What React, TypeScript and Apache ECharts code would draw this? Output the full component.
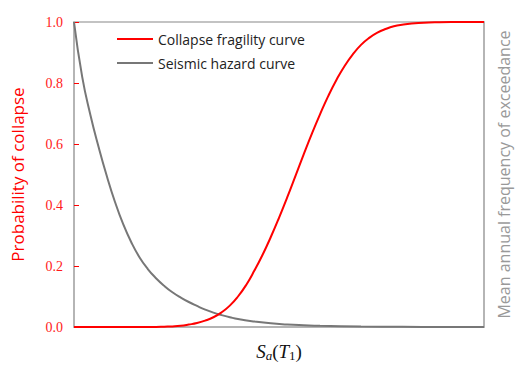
import React, { useEffect, useRef } from "react";
import * as echarts from "echarts";

const xGray = [0, 2, 4, 6, 8, 10, 12, 14, 16, 18, 20, 22, 24, 26, 28, 30, 32, 34, 36, 38, 40, 44, 48, 52, 56, 60, 70, 80, 90, 100];
const hazard = [1.0, 0.82, 0.695, 0.59, 0.495, 0.41, 0.337, 0.277, 0.228, 0.19, 0.16, 0.135, 0.114, 0.097, 0.082, 0.069, 0.057, 0.047, 0.039, 0.032, 0.026, 0.018, 0.012, 0.0085, 0.006, 0.004, 0.0015, 0.0006, 0.0002, 0.0];

const xRed = [0, 10, 20, 22, 24, 26, 28, 30, 32, 34, 36, 38, 40, 42, 44, 46, 48, 50, 52, 54, 56, 58, 60, 62, 64, 66, 68, 70, 72, 74, 76, 78, 80, 84, 88, 92, 100];
const fragility = [0, 0, 0, 0.001, 0.002, 0.004, 0.008, 0.013, 0.021, 0.032, 0.048, 0.07, 0.1, 0.138, 0.185, 0.237, 0.295, 0.358, 0.425, 0.495, 0.565, 0.633, 0.697, 0.757, 0.81, 0.856, 0.894, 0.925, 0.948, 0.965, 0.977, 0.986, 0.991, 0.997, 0.999, 1.0, 1.0];

const seriesNames = ["Collapse fragility curve", "Seismic hazard curve"];
const yTitleLeft = "Probability of collapse";
const yTitleRight = "Mean annual frequency of exceedance";

const SANS = "'Open Sans', 'Noto Sans', sans-serif";
const SERIF = "'Liberation Serif', 'DejaVu Serif', serif";

export default function App() {
  const ref = useRef<HTMLDivElement>(null);
  useEffect(() => {
    if (!ref.current) return;
    const chart = echarts.init(ref.current, undefined, { renderer: "svg" });
    chart.setOption({
      animation: false,
      backgroundColor: "#ffffff",
      grid: {
        left: 74,
        right: 32,
        top: 22,
        bottom: 40,
        outerBoundsMode: "none",
        containLabel: false,
        show: true,
        borderColor: "#b0b0b0",
        borderWidth: 1.5,
      },
      legend: {
        left: 112,
        top: 27,
        orient: "vertical",
        itemGap: 10,
        itemWidth: 36,
        itemHeight: 2,
        icon: "rect",
        textStyle: { fontFamily: SANS, fontSize: 14, color: "#222" },
        data: seriesNames,
      },
      xAxis: {
        type: "value",
        min: 0,
        max: 100,
        axisLabel: { show: false },
        axisTick: { show: false },
        splitLine: { show: false },
        axisLine: { lineStyle: { color: "#b0b0b0", width: 1.5 } },
        name: "{i|S}{si|a}{n|(}{i|T}{sn|1}{n|)}",
        nameLocation: "middle",
        nameGap: 13,
        nameTextStyle: {
          rich: {
            i: { fontFamily: SERIF, fontStyle: "italic", fontSize: 19, color: "#111" },
            si: { fontFamily: SERIF, fontStyle: "italic", fontSize: 13, color: "#111", padding: [9, 0, 0, 0] },
            sn: { fontFamily: SERIF, fontSize: 13, color: "#111", padding: [9, 0, 0, 0] },
            n: { fontFamily: SERIF, fontSize: 19, color: "#111" },
          },
        },
      },
      yAxis: [
        {
          type: "value",
          min: 0,
          max: 1,
          interval: 0.2,
          position: "left",
          axisLine: { show: true, lineStyle: { color: "#b0b0b0", width: 1.5 } },
          axisTick: { show: true, inside: true, length: 5, lineStyle: { color: "#ff0000", width: 1 } },
          axisLabel: {
            color: "#ff1a1a",
            fontFamily: SERIF,
            fontSize: 14,
            margin: 11,
            formatter: (v: number) => v.toFixed(1),
          },
          splitLine: { show: false },
          name: yTitleLeft,
          nameLocation: "middle",
          nameRotate: 90,
          nameGap: 48,
          nameTextStyle: { color: "#ff0000", fontFamily: SANS, fontSize: 17 },
        },
        {
          type: "value",
          min: 0,
          max: 1,
          position: "right",
          axisLine: { show: true, lineStyle: { color: "#b0b0b0", width: 1.5 } },
          axisTick: { show: false },
          axisLabel: { show: false },
          splitLine: { show: false },
          name: yTitleRight,
          nameLocation: "middle",
          nameRotate: 90,
          nameGap: 12,
          nameTextStyle: { color: "#999999", fontFamily: SANS, fontSize: 16 },
        },
      ],
      series: [
        {
          name: seriesNames[0],
          type: "line",
          smooth: true,
          symbol: "none",
          yAxisIndex: 0,
          lineStyle: { color: "#ff0000", width: 2 },
          itemStyle: { color: "#ff0000" },
          data: xRed.map((x, i) => [x, fragility[i]]),
          z: 3,
        },
        {
          name: seriesNames[1],
          type: "line",
          smooth: true,
          symbol: "none",
          yAxisIndex: 0,
          lineStyle: { color: "#777777", width: 2 },
          itemStyle: { color: "#777777" },
          data: xGray.map((x, i) => [x, hazard[i]]),
          z: 2,
        },
      ],
    });
    return () => chart.dispose();
  }, []);
  return (
    <div
      ref={ref}
      style={{ position: "fixed", left: 0, top: 0, width: 516, height: 367, background: "#fff" }}
    />
  );
}
